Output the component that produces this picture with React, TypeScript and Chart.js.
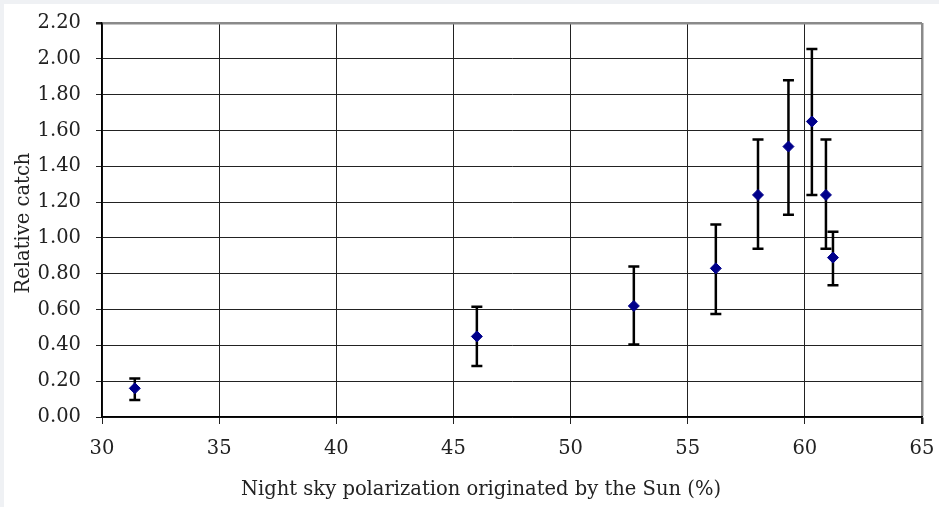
import React, { useEffect, useRef } from "react";
import { Chart, registerables } from "chart.js";

Chart.register(...registerables);

const xValues = [31.4, 46.0, 52.7, 56.2, 58.0, 59.3, 60.3, 60.9, 61.2];
const yValues = [0.16, 0.45, 0.62, 0.83, 1.24, 1.51, 1.65, 1.24, 0.89];
const yHigh = [0.215, 0.615, 0.84, 1.075, 1.55, 1.88, 2.055, 1.55, 1.035];
const yLow = [0.095, 0.285, 0.405, 0.575, 0.94, 1.13, 1.24, 0.94, 0.735];

const xTitle = "Night sky polarization originated by the Sun (%)";
const yTitle = "Relative catch";

const FONT = "'DejaVu Serif', serif";
const FSIZE = 19.5;

const errorBars = {
  id: "errorBars",
  beforeDatasetsDraw(chart: any) {
    const { ctx, scales } = chart;
    const xs = scales.x;
    const ys = scales.y;
    ctx.save();
    ctx.strokeStyle = "#000";
    ctx.lineWidth = 2.5;
    ctx.lineCap = "butt";
    xValues.forEach((xv, i) => {
      const px = xs.getPixelForValue(xv);
      const top = ys.getPixelForValue(yHigh[i]);
      const bot = ys.getPixelForValue(yLow[i]);
      ctx.beginPath();
      ctx.moveTo(px, top);
      ctx.lineTo(px, bot);
      ctx.moveTo(px - 5.5, top);
      ctx.lineTo(px + 5.5, top);
      ctx.moveTo(px - 5.5, bot);
      ctx.lineTo(px + 5.5, bot);
      ctx.stroke();
    });
    ctx.restore();
  },
};

const axisTitles = {
  id: "axisTitles",
  afterDraw(chart: any) {
    const { ctx, chartArea } = chart;
    ctx.save();
    ctx.fillStyle = "#222";
    ctx.font = `${FSIZE}px ${FONT}`;
    ctx.textAlign = "center";
    ctx.textBaseline = "middle";
    ctx.fillText(xTitle, 477, 486);
    ctx.translate(20, (chartArea.top + chartArea.bottom) / 2 + 3);
    ctx.rotate(-Math.PI / 2);
    ctx.fillText(yTitle, 0, 0);
    ctx.restore();
  },
};

export default function App() {
  const ref = useRef<HTMLCanvasElement | null>(null);
  useEffect(() => {
    document.body.style.margin = "0";
    const canvas = ref.current!;
    const chart = new Chart(canvas, {
      type: "scatter",
      data: {
        datasets: [
          {
            data: xValues.map((x, i) => ({ x, y: yValues[i] })),
            pointStyle: "rectRot",
            pointRadius: 5.5,
            pointHoverRadius: 5.5,
            backgroundColor: "#00008b",
            borderColor: "#00008b",
            borderWidth: 1,
          },
        ],
      },
      options: {
        responsive: false,
        animation: false,
        layout: { padding: { left: 0, top: 19, right: 17, bottom: 0 } },
        plugins: {
          legend: { display: false },
          tooltip: { enabled: false },
        },
        scales: {
          x: {
            type: "linear",
            min: 30,
            max: 65,
            ticks: {
              stepSize: 5,
              color: "#222",
              font: { family: FONT, size: FSIZE },
              padding: 13,
              maxRotation: 0,
            },
            grid: {
              color: (c: any) => (c.tick && c.tick.value === 65 ? "#8a8a8a" : "#222"),
              lineWidth: (c: any) => (c.tick && c.tick.value === 65 ? 2.5 : 1),
              tickLength: 7,
              tickColor: "#222",
            },
            border: { color: "#000", width: 1.5 },
            afterFit: (s: any) => {
              s.height = 90;
              s.paddingLeft = 0;
              s.paddingRight = 0;
            },
          },
          y: {
            type: "linear",
            min: 0,
            max: 2.2,
            ticks: {
              stepSize: 0.2,
              color: "#222",
              font: { family: FONT, size: FSIZE },
              padding: 15,
              callback: (v: any) => Number(v).toFixed(2),
            },
            grid: {
              color: (c: any) => (c.tick && Math.abs(c.tick.value - 2.2) < 1e-6 ? "#8a8a8a" : "#222"),
              lineWidth: (c: any) => (c.tick && Math.abs(c.tick.value - 2.2) < 1e-6 ? 2.5 : 1),
              tickLength: 6,
              tickColor: "#222",
            },
            border: { color: "#000", width: 1.5 },
            afterFit: (s: any) => {
              s.width = 98;
              s.paddingTop = 0;
              s.paddingBottom = 0;
            },
          },
        },
      },
      plugins: [errorBars, axisTitles],
    });
    return () => chart.destroy();
  }, []);
  return (
    <div
      style={{
        position: "relative",
        width: 939,
        height: 507,
        background: "#eff1f4",
        overflow: "hidden",
      }}
    >
      <canvas
        ref={ref}
        width={935}
        height={503}
        style={{ position: "absolute", left: 4, top: 4, background: "#fff", display: "block" }}
      />
    </div>
  );
}
